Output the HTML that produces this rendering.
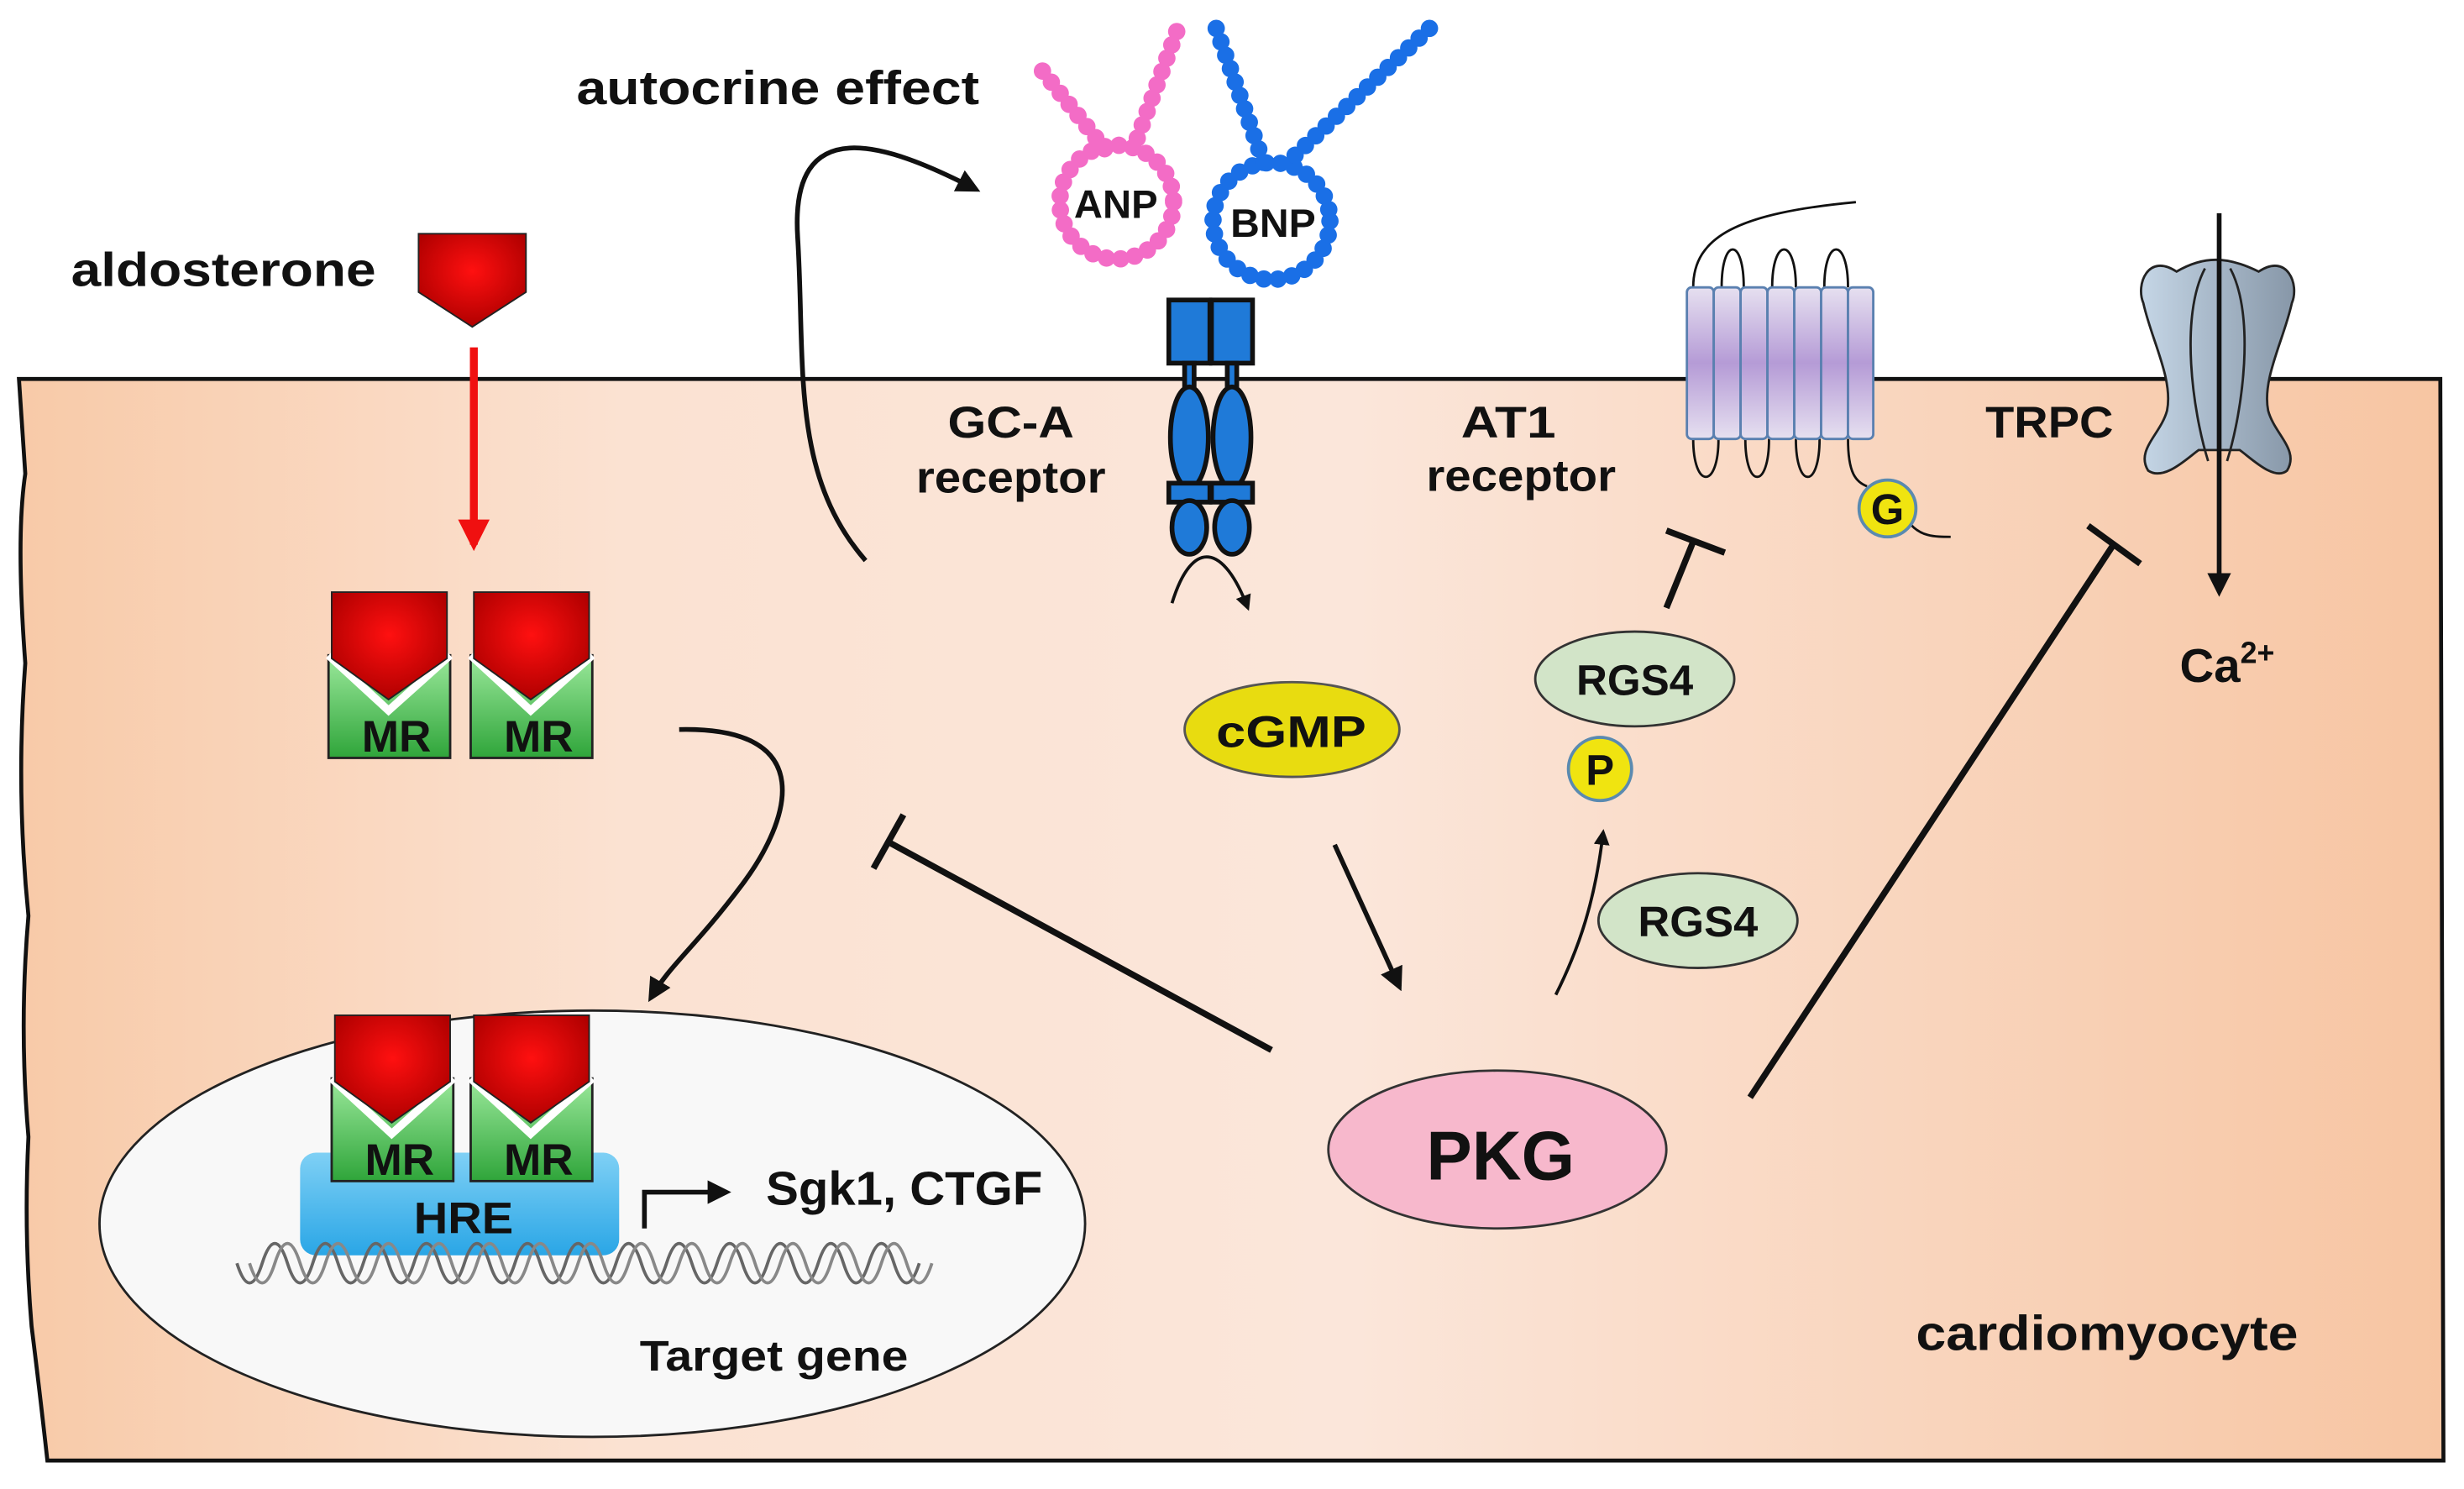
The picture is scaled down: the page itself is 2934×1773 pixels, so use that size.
<!DOCTYPE html>
<html><head><meta charset="utf-8"><style>
html,body{margin:0;padding:0;background:#fff}
svg{display:block}
text{font-family:"Liberation Sans",Arial,sans-serif;font-weight:bold;fill:#111}
</style></head><body>
<svg width="2934" height="1773" viewBox="0 0 1560 943" preserveAspectRatio="none" xmlns="http://www.w3.org/2000/svg">
<defs>
<linearGradient id="cell" x1="0" x2="1" y1="0" y2="0">
<stop offset="0" stop-color="#f8caa8"/><stop offset="0.25" stop-color="#fbe2d2"/><stop offset="0.55" stop-color="#fbe6da"/><stop offset="1" stop-color="#f7c5a2"/></linearGradient>
<radialGradient id="red" cx="0.5" cy="0.4" r="0.6"><stop offset="0" stop-color="#ff1010"/><stop offset="1" stop-color="#b00000"/></radialGradient>
<linearGradient id="grn" x1="0" x2="0" y1="0" y2="1"><stop offset="0" stop-color="#9be89b"/><stop offset="1" stop-color="#2fa53a"/></linearGradient>
<linearGradient id="purp" x1="0" x2="0" y1="0" y2="1"><stop offset="0" stop-color="#e6e0f0"/><stop offset="0.5" stop-color="#b59bd6"/><stop offset="1" stop-color="#e6e0f0"/></linearGradient>
<linearGradient id="hre" x1="0" x2="0" y1="0" y2="1"><stop offset="0" stop-color="#7fd0f5"/><stop offset="1" stop-color="#2aa6e6"/></linearGradient>
<linearGradient id="trpc" x1="0" x2="1"><stop offset="0" stop-color="#c5d6e6"/><stop offset="1" stop-color="#8797a8"/></linearGradient>
<marker id="ah" viewBox="0 0 10 10" refX="8" refY="5" markerWidth="5" markerHeight="5" orient="auto"><path d="M0,0L10,5L0,10z" fill="#111"/></marker>
<marker id="ahr" viewBox="0 0 10 10" refX="8" refY="5" markerWidth="4" markerHeight="4" orient="auto"><path d="M0,0L10,5L0,10z" fill="#f01010"/></marker>
<g id="mr">
<rect x="0" y="40" width="77" height="65" fill="url(#grn)" stroke="#222" stroke-width="1.5"/>
<path d="M0,40 L38,75 L77,40" fill="none" stroke="#fff" stroke-width="5"/>
<path d="M2,0 H75 V42 L38,68 L2,42 Z" fill="url(#red)" stroke="#222" stroke-width="1"/>
<text x="21" y="101" font-size="28" textLength="44" lengthAdjust="spacingAndGlyphs">MR</text>
</g>
</defs>
<path d="M12,240 L1545,240 L1547,925 L30,925 Q25,880 20,840 Q15,780 18,720 Q12,650 18,580 Q10,500 16,420 Q10,340 16,300 Z" fill="url(#cell)" stroke="#111" stroke-width="2.5"/>
<text x="365" y="66" font-size="30" textLength="255" lengthAdjust="spacingAndGlyphs">autocrine effect</text>
<text x="45" y="181" font-size="30" textLength="193" lengthAdjust="spacingAndGlyphs">aldosterone</text>
<path d="M265,148 H333 V185 L299,207 L265,185 Z" fill="url(#red)" stroke="#222"/>
<line x1="300" y1="220" x2="300" y2="345" stroke="#f01010" stroke-width="5" marker-end="url(#ahr)"/>
<use href="#mr" x="208" y="375"/><use href="#mr" x="298" y="375"/>
<path d="M430,462 C520,460 500,520 470,560 C440,600 425,610 412,632" fill="none" stroke="#111" stroke-width="3" marker-end="url(#ah)"/>
<ellipse cx="375" cy="775" rx="312" ry="135" fill="#f8f8f8" stroke="#222" stroke-width="1.5"/>
<rect x="190" y="730" width="202" height="65" rx="10" fill="url(#hre)"/>
<text x="262" y="781" font-size="28" textLength="63" lengthAdjust="spacingAndGlyphs">HRE</text>
<use href="#mr" x="210" y="643"/><use href="#mr" x="298" y="643"/>
<path d="M150,800 q8,25 16,0 t16,0 t16,0 t16,0 t16,0 t16,0 t16,0 t16,0 t16,0 t16,0 t16,0 t16,0 t16,0 t16,0 t16,0 t16,0 t16,0 t16,0 t16,0 t16,0 t16,0 t16,0 t16,0 t16,0 t16,0 t16,0 t16,0" fill="none" stroke="#666" stroke-width="2"/>
<path d="M158,800 q8,25 16,0 t16,0 t16,0 t16,0 t16,0 t16,0 t16,0 t16,0 t16,0 t16,0 t16,0 t16,0 t16,0 t16,0 t16,0 t16,0 t16,0 t16,0 t16,0 t16,0 t16,0 t16,0 t16,0 t16,0 t16,0 t16,0 t16,0" fill="none" stroke="#888" stroke-width="2"/>
<path d="M408,778 V755 H460" fill="none" stroke="#111" stroke-width="3" marker-end="url(#ah)"/>
<text x="485" y="763" font-size="30" textLength="175" lengthAdjust="spacingAndGlyphs">Sgk1, CTGF</text>
<text x="405" y="868" font-size="27" textLength="170" lengthAdjust="spacingAndGlyphs">Target gene</text>
<path d="M548,355 C500,300 510,230 505,150 C500,70 560,90 618,120" fill="none" stroke="#111" stroke-width="3" marker-end="url(#ah)"/>
<g fill="none" stroke-linecap="round" stroke-width="11">
<g stroke="#f36cc6" stroke-dasharray="0 9">
<circle cx="707" cy="128" r="36"/>
<line x1="660" y1="45" x2="700" y2="95"/><line x1="745" y1="20" x2="718" y2="93"/>
</g>
<g stroke="#1a6fe6" stroke-dasharray="0 9">
<circle cx="805" cy="140" r="37"/>
<line x1="770" y1="18" x2="800" y2="103"/><line x1="905" y1="18" x2="815" y2="103"/>
</g>
</g>
<text x="680" y="138" font-size="25" textLength="53" lengthAdjust="spacingAndGlyphs">ANP</text>
<text x="779" y="150" font-size="25" textLength="54" lengthAdjust="spacingAndGlyphs">BNP</text>
<g fill="#1f7ad8" stroke="#111" stroke-width="3">
<rect x="740" y="190" width="26" height="40"/><rect x="767" y="190" width="26" height="40"/>
<rect x="750" y="230" width="6" height="20"/><rect x="777" y="230" width="6" height="20"/>
<ellipse cx="753" cy="277" rx="12" ry="32"/><ellipse cx="780" cy="277" rx="12" ry="32"/>
<rect x="740" y="306" width="26" height="12"/><rect x="767" y="306" width="26" height="12"/>
<ellipse cx="753" cy="334" rx="11" ry="17"/><ellipse cx="780" cy="334" rx="11" ry="17"/>
</g>
<path d="M742,382 C755,340 775,345 790,385" fill="none" stroke="#111" stroke-width="2" marker-end="url(#ah)"/>
<text x="600" y="277" font-size="28" textLength="80" lengthAdjust="spacingAndGlyphs">GC-A</text>
<text x="580" y="312" font-size="28" textLength="120" lengthAdjust="spacingAndGlyphs">receptor</text>
<ellipse cx="818" cy="462" rx="68" ry="30" fill="#e8dc10" stroke="#555" stroke-width="1.5"/>
<text x="770" y="473" font-size="28" textLength="95" lengthAdjust="spacingAndGlyphs">cGMP</text>
<line x1="845" y1="535" x2="886" y2="625" stroke="#111" stroke-width="3" marker-end="url(#ah)"/>
<ellipse cx="948" cy="728" rx="107" ry="50" fill="#f7b8cc" stroke="#333" stroke-width="1.5"/>
<text x="903" y="747" font-size="44" textLength="94" lengthAdjust="spacingAndGlyphs">PKG</text>
<g stroke="#111" stroke-width="4" fill="none">
<line x1="805" y1="665" x2="562" y2="533"/><line x1="553" y1="550" x2="572" y2="516"/>
<line x1="1108" y1="695" x2="1338" y2="345"/><line x1="1322" y1="333" x2="1355" y2="357"/>
<line x1="1055" y1="385" x2="1072" y2="343"/><line x1="1055" y1="336" x2="1092" y2="350"/>
</g>
<path d="M985,630 C1000,600 1010,570 1015,527" fill="none" stroke="#111" stroke-width="2" marker-end="url(#ah)"/>
<ellipse cx="1075" cy="583" rx="63" ry="30" fill="#d2e4c8" stroke="#333" stroke-width="1.5"/>
<text x="1037" y="593" font-size="27" textLength="76" lengthAdjust="spacingAndGlyphs">RGS4</text>
<ellipse cx="1035" cy="430" rx="63" ry="30" fill="#d2e4c8" stroke="#333" stroke-width="1.5"/>
<text x="998" y="440" font-size="27" textLength="74" lengthAdjust="spacingAndGlyphs">RGS4</text>
<circle cx="1013" cy="487" r="20" fill="#f0e410" stroke="#5a8ab0" stroke-width="2"/>
<text x="1013" y="497" font-size="27" font-weight="normal" text-anchor="middle">P</text>
<g fill="none" stroke="#111" stroke-width="1.5">
<path d="M1072,182 C1072,150 1100,135 1175,128"/>
<path d="M1090,182 C1090,150 1104,150 1104,182 M1122,182 C1122,150 1137,150 1137,182 M1155,182 C1155,150 1170,150 1170,182"/>
<path d="M1072,278 C1072,310 1088,310 1088,278 M1105,278 C1105,310 1120,310 1120,278 M1137,278 C1137,310 1152,310 1152,278 M1170,278 C1170,300 1175,305 1182,308"/>
<path d="M1208,330 C1215,340 1225,340 1235,340"/>
</g>
<g fill="url(#purp)" stroke="#5a80b0" stroke-width="1.5">
<rect x="1068" y="182" width="17" height="96" rx="3"/><rect x="1085" y="182" width="17" height="96" rx="3"/><rect x="1102" y="182" width="17" height="96" rx="3"/><rect x="1119" y="182" width="17" height="96" rx="3"/><rect x="1136" y="182" width="17" height="96" rx="3"/><rect x="1153" y="182" width="17" height="96" rx="3"/><rect x="1170" y="182" width="16" height="96" rx="3"/>
</g>
<circle cx="1195" cy="322" r="18" fill="#f0e410" stroke="#5a8ab0" stroke-width="2"/>
<text x="1195" y="332" font-size="27" font-weight="normal" text-anchor="middle">G</text>
<text x="925" y="277" font-size="28" textLength="60" lengthAdjust="spacingAndGlyphs">AT1</text>
<text x="903" y="311" font-size="28" textLength="120" lengthAdjust="spacingAndGlyphs">receptor</text>
<path d="M1378,172 C1360,160 1352,180 1357,192 C1362,215 1376,240 1372,260 C1368,275 1352,285 1360,298 C1370,305 1385,290 1392,285 L1418,285 C1425,290 1440,305 1448,298 C1456,285 1440,275 1436,260 C1432,240 1446,215 1451,192 C1456,180 1448,160 1430,172 C1410,162 1395,162 1378,172 Z" fill="url(#trpc)" stroke="#222" stroke-width="1.5"/>
<path d="M1396,170 C1380,200 1388,260 1398,292 M1412,170 C1428,200 1420,260 1410,292" fill="none" stroke="#222" stroke-width="1.5"/>
<line x1="1405" y1="135" x2="1405" y2="375" stroke="#111" stroke-width="3" marker-end="url(#ah)"/>
<text x="1257" y="277" font-size="28" textLength="81" lengthAdjust="spacingAndGlyphs">TRPC</text>
<text x="1380" y="432" font-size="30">Ca<tspan font-size="19" dy="-12">2+</tspan></text>
<text x="1213" y="855" font-size="31" textLength="242" lengthAdjust="spacingAndGlyphs">cardiomyocyte</text>
</svg>
</body></html>
